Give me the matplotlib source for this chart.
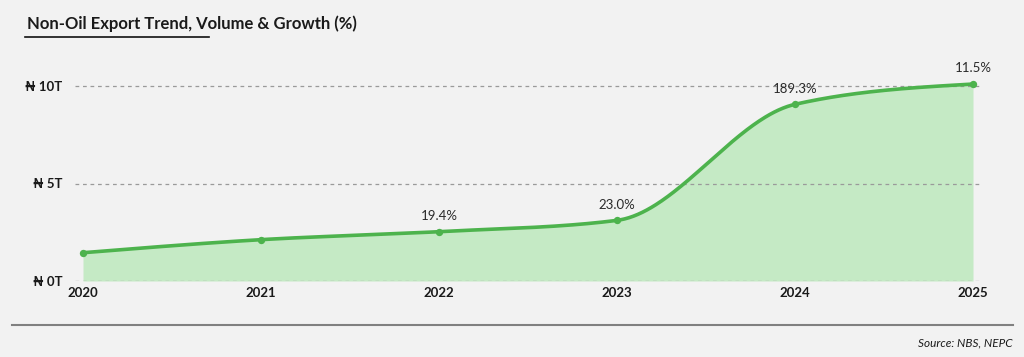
import numpy as np
import matplotlib
matplotlib.use("Agg")
import matplotlib.pyplot as plt

years = [2020, 2021, 2022, 2023, 2024, 2025]
values_t = [1.45, 2.12, 2.53, 3.11, 9.06, 10.10]
growth_labels = [None, None, "19.4%", "23.0%", "189.3%", "11.5%"]
ytick_vals = [0, 5, 10]
ytick_labels = ["₦ 0T", "₦ 5T", "₦ 10T"]

FAM = ["Lato", "DejaVu Sans"]
plt.rcParams["font.family"] = FAM

BG = "#f2f2f2"
LINE = "#4db34d"
FILL = "#c5eac5"
TXT = "#1a1a1a"


def monotone_x(x, y, npts=120):
    """Monotone-X cubic (Steffen-style slopes) drawn as Bezier segments."""
    x = np.asarray(x, float); y = np.asarray(y, float)
    n = len(x)
    h = np.diff(x); s = np.diff(y) / h
    m = np.zeros(n)
    for i in range(1, n - 1):
        p = (s[i - 1] * h[i] + s[i] * h[i - 1]) / (h[i - 1] + h[i])
        m[i] = (np.sign(s[i - 1]) + np.sign(s[i])) * min(abs(s[i - 1]), abs(s[i]), 0.5 * abs(p))
    m[0] = (3 * s[0] - m[1]) / 2
    m[-1] = (3 * s[-1] - m[-2]) / 2
    t = np.linspace(0, 1, npts)
    xs, ys = [], []
    for i in range(n - 1):
        dx = h[i] / 3
        P0 = np.array([x[i], y[i]])
        P1 = np.array([x[i] + dx, y[i] + dx * m[i]])
        P2 = np.array([x[i + 1] - dx, y[i + 1] - dx * m[i + 1]])
        P3 = np.array([x[i + 1], y[i + 1]])
        B = ((1 - t)[:, None] ** 3 * P0 + 3 * ((1 - t) ** 2 * t)[:, None] * P1
             + 3 * ((1 - t) * t ** 2)[:, None] * P2 + (t ** 3)[:, None] * P3)
        xs.append(B[:, 0]); ys.append(B[:, 1])
    return np.concatenate(xs), np.concatenate(ys)


fig = plt.figure(figsize=(10.24, 3.57), dpi=100, facecolor=BG)
ax = fig.add_axes([75/1024, 1 - 281/357, (982-75)/1024, 214.5/357])
ax.set_facecolor(BG)

xs, ys = monotone_x(years, values_t)
ax.fill_between(xs, 0, ys, color=FILL, lw=0, zorder=1)
ax.plot(xs, ys, color=LINE, lw=2.6, zorder=3, solid_capstyle="round")
ax.scatter(years, values_t, s=28, color=LINE, zorder=4, lw=0)

for x, v, lab in zip(years, values_t, growth_labels):
    if lab:
        ax.annotate(lab, (x, v), xytext=(0, 7), textcoords="offset points",
                    ha="center", va="bottom", fontsize=9.5, color="#2a2a2a", zorder=5)

ax.set_xlim(2020 - 8/178, 2025 + 9/178)
ax.set_ylim(0, 11)
for v in ytick_vals:
    ax.axhline(v, color="#9a9a9a", lw=0.9, ls=(0, (3, 3)), zorder=2)

ax.set_yticks(ytick_vals)
ax.set_yticklabels(ytick_labels, fontweight="bold", fontsize=9.5, color=TXT)
ax.set_xticks(years)
ax.set_xticklabels([str(y) for y in years], fontweight="bold", fontsize=9.5, color=TXT)
ax.tick_params(length=0, pad=4)
ax.tick_params(axis="y", pad=9)
for s in ax.spines.values():
    s.set_visible(False)

fig.text(27/1024, 1 - 24/357, "Non-Oil Export Trend, Volume & Growth (%)",
         fontsize=12, fontweight="bold", color=TXT, va="center", ha="left")
fig.add_artist(plt.Line2D([25/1024, 209/1024], [1 - 37/357, 1 - 37/357],
                          color="#111111", lw=1.2))
fig.add_artist(plt.Line2D([12/1024, 1013/1024], [1 - 325/357, 1 - 325/357],
                          color="#808080", lw=1.5))
fig.text(1013/1024, 1 - 343/357, "Source: NBS, NEPC", fontsize=8.5, style="italic",
         color=TXT, ha="right", va="center")

fig.savefig("out.png", dpi=100, facecolor=BG)
